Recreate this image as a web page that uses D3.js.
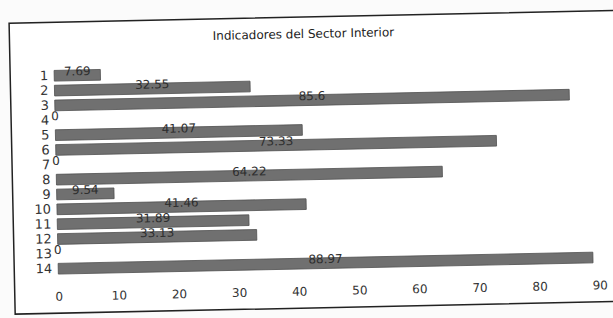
<!DOCTYPE html>
<html>
<head>
<meta charset="utf-8">
<script src="https://cdn.jsdelivr.net/npm/d3@7"></script>
<style>
  body { margin: 0; background: #fbfbfb; }
  svg { font-family: "DejaVu Sans", Arial, sans-serif; }
</style>
</head>
<body>
<div id="chart"></div>
<script>
// datos
var categorias = ["1","2","3","4","5","6","7","8","9","10","11","12","13","14"];
var valores = [7.69, 32.55, 85.6, 0, 41.07, 73.33, 0, 64.22, 9.54, 41.46, 31.89, 33.13, 0, 88.97];
var ticksX = [0, 10, 20, 30, 40, 50, 60, 70, 80, 90];
var titulo = "Indicadores del Sector Interior";

var datos = categorias.map(function(c, i) { return {cat: c, valor: valores[i]}; });

var W = 613, H = 318;

var svg = d3.select("#chart")
  .append("svg")
  .attr("width", W)
  .attr("height", H);

// la imagen original esta un poco girada
var g = svg.append("g")
  .attr("transform", "rotate(-1.2," + (W / 2) + "," + (H / 2) + ")");

// marco
g.append("rect")
  .attr("x", 12)
  .attr("y", 17)
  .attr("width", 630)
  .attr("height", 291)
  .attr("fill", "#ffffff")
  .attr("stroke", "#222")
  .attr("stroke-width", 1.5);

// titulo
g.append("text")
  .attr("x", 306)
  .attr("y", 38)
  .attr("text-anchor", "middle")
  .style("font-size", "12px")
  .attr("fill", "#222")
  .text(titulo);

var x = d3.scaleLinear()
  .domain([0, 90])
  .range([56, 597]);

var y = d3.scaleBand()
  .domain(categorias)
  .range([61, 273])
  .padding(0.28);

// eje x sin linea ni marcas
var ejeX = g.append("g")
  .attr("transform", "translate(0,287)")
  .call(d3.axisBottom(x).tickValues(ticksX).tickSize(0).tickPadding(0));
ejeX.select(".domain").remove();
ejeX.selectAll("text")
  .style("font-size", "12px")
  .style("font-family", "DejaVu Sans, Arial, sans-serif")
  .attr("fill", "#333");

// eje y
var ejeY = g.append("g")
  .attr("transform", "translate(50,0)")
  .call(d3.axisLeft(y).tickSize(0).tickPadding(0));
ejeY.select(".domain").remove();
ejeY.selectAll("text")
  .style("font-size", "13px")
  .style("font-family", "DejaVu Sans, Arial, sans-serif")
  .attr("fill", "#333");

// barras
g.append("g")
  .selectAll("rect")
  .data(datos)
  .join("rect")
  .attr("x", x(0))
  .attr("y", function(d) { return y(d.cat); })
  .attr("width", function(d) { return x(d.valor) - x(0); })
  .attr("height", y.bandwidth())
  .attr("fill", "#707070")
  .attr("stroke", "#505050")
  .attr("stroke-width", 0.8);

// etiquetas de valor
g.append("g")
  .selectAll("text")
  .data(datos)
  .join("text")
  .attr("x", function(d) { return (x(0) + x(d.valor)) / 2; })
  .attr("y", function(d) { return y(d.cat) + y.bandwidth() / 2; })
  .attr("text-anchor", "middle")
  .style("font-size", "12px")
  .attr("fill", "#2e2e2e")
  .text(function(d) { return d.valor; });
</script>
</body>
</html>
